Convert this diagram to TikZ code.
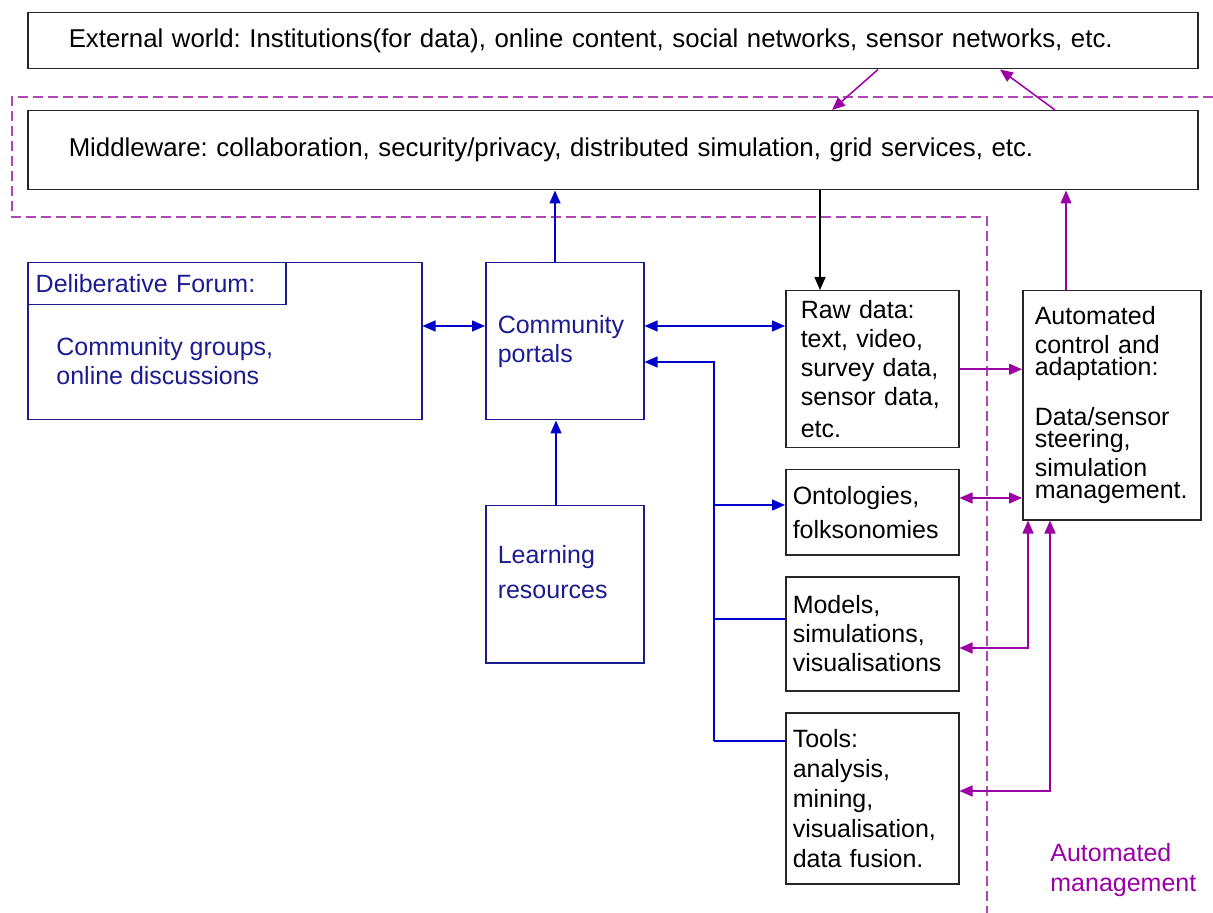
\documentclass[tikz,border=0pt]{standalone}
\usepackage{fontspec}
\setmainfont{Liberation Sans}
\usetikzlibrary{arrows.meta}
\definecolor{portalBlue}{RGB}{28, 28, 145}
\definecolor{linkBlue}{RGB}{0, 0, 205}
\definecolor{manageMag}{RGB}{155, 0, 165}
\definecolor{fenceMag}{RGB}{175, 70, 180}
\frenchspacing

\begin{document}
\begin{tikzpicture}[x=0.5pt, y=-0.5pt,
    >={Triangle[length=6.5pt,width=5.5pt]},
    every node/.style={font=\fontsize{12.5}{14.5}\selectfont},
    sysbox/.style={draw=black!85, line width=0.75pt, anchor=north west, align=left, inner ysep=0pt},
    widebox/.style={sysbox, font=\fontsize{12.9}{14.5}\selectfont, inner xsep=20.5pt, text width=544pt},
    commbox/.style={sysbox, draw=portalBlue, text=portalBlue},
    bluelink/.style={draw=linkBlue, line width=0.75pt},
    maglink/.style={draw=manageMag, line width=0.75pt}]
  \useasboundingbox (0,0) rectangle (1213,913);

  % outside world and middleware
  \node[widebox, minimum height=28pt] (ext) at (27,12)
    {External world: Institutions(for data), online content, social networks, sensor networks, etc.};
  \node[widebox, minimum height=39.5pt] (mid) at (27,110)
    {Middleware: collaboration, security/privacy, distributed simulation, grid services, etc.};

  % community side
  \node[commbox, minimum width=197pt, minimum height=78.5pt] (forum) at (27,262) {};
  \node[commbox, minimum height=21pt, inner xsep=4pt, text width=121pt] (forumhead) at (27,262) {Deliberative Forum:};
  \node[text=portalBlue, anchor=west, align=left, inner sep=0pt] (forumtext) at (56,361)
    {Community groups,\\online discussions};
  \node[commbox, minimum height=78.5pt, inner xsep=6pt, text width=67pt] (portals) at (485,262) {Community\\portals};
  \node[commbox, minimum height=78.5pt, inner xsep=6pt, text width=67pt] (learning) at (485,505)
    {Learning\\[3pt]resources\\[-2.5pt]\mbox{}};

  % data, models and tools
  \node[sysbox, minimum height=78.5pt, inner xsep=7.5pt, text width=71.5pt] (raw) at (785,290)
    {Raw data:\\text, video,\\survey data,\\sensor data,\\[1.5pt]etc.};
  \node[sysbox, minimum height=42.5pt, inner xsep=3.5pt, text width=79.5pt] (ont) at (785,469)
    {Ontologies,\\[2.5pt]folksonomies};
  \node[sysbox, minimum height=57pt, inner xsep=3.5pt, text width=79.5pt] (models) at (785,576)
    {Models,\\simulations,\\visualisations};
  \node[sysbox, minimum height=85.5pt, inner xsep=3.5pt, text width=79.5pt] (tools) at (785,712)
    {Tools:\\[0.5pt]analysis,\\[0.5pt]mining,\\[0.5pt]visualisation,\\[0.5pt]data fusion.};
  \node[sysbox, minimum height=114.5pt, inner xsep=6pt, text width=77pt] (auto) at (1022,290)
    {Automated\\control and\\[-3.5pt]adaptation:\\[10.5pt]Data/sensor\\[-3.5pt]steering,\\simulation\\[-3.5pt]management.};
  \node[text=manageMag, anchor=north west, align=left, inner sep=0pt] (autolabel) at (1050,843)
    {Automated\\[0.5pt]management};

  % automated management boundary
  \draw[fenceMag, line width=0.75pt, dash pattern=on 5pt off 2.5pt]
    (1213,97) -- (12,97) -- (12,217) -- (987,217) -- (987,913);

  % links to the middleware
  \draw[maglink, ->] (ext.south -| 878,0) -- (mid.north -| 832,0);
  \draw[maglink, ->] (mid.north -| 1055,0) -- (ext.south -| 1000,0);
  \draw[bluelink, ->] (portals.north -| 555,0) -- (mid.south -| 555,0);
  \draw[line width=0.75pt, ->] (mid.south -| 820,0) -- (raw.north -| 820,0);
  \draw[maglink, ->] (auto.north -| 1066,0) -- (mid.south -| 1066,0);

  % community links
  \draw[bluelink, <->] (forum.east |- 0,326) -- (portals.west |- 0,326);
  \draw[bluelink, <->] (portals.east |- 0,326) -- (raw.west |- 0,326);
  \draw[bluelink, ->] (learning.north -| 556,0) -- (portals.south -| 556,0);

  % bus to the resources
  \coordinate (bustop) at (714,362);
  \coordinate (busend) at (714,741);
  \draw[bluelink, ->] (busend) -- (bustop) -- (portals.east |- bustop);
  \draw[bluelink, ->] (bustop |- 0,505) -- (ont.west |- 0,505);
  \draw[bluelink] (bustop |- 0,619) -- (models.west |- 0,619);
  \draw[bluelink] (busend) -- (tools.west |- busend);

  % automated control links
  \draw[maglink, ->] (raw.east) -- (auto.west |- raw.east);
  \draw[maglink, <->] (ont.east |- 0,498) -- (auto.west |- 0,498);
  \draw[maglink, <->] (models.east |- 0,648) -| (auto.south -| 1028,0);
  \draw[maglink, <->] (tools.east |- 0,791) -| (auto.south -| 1050,0);
\end{tikzpicture}
\end{document}
